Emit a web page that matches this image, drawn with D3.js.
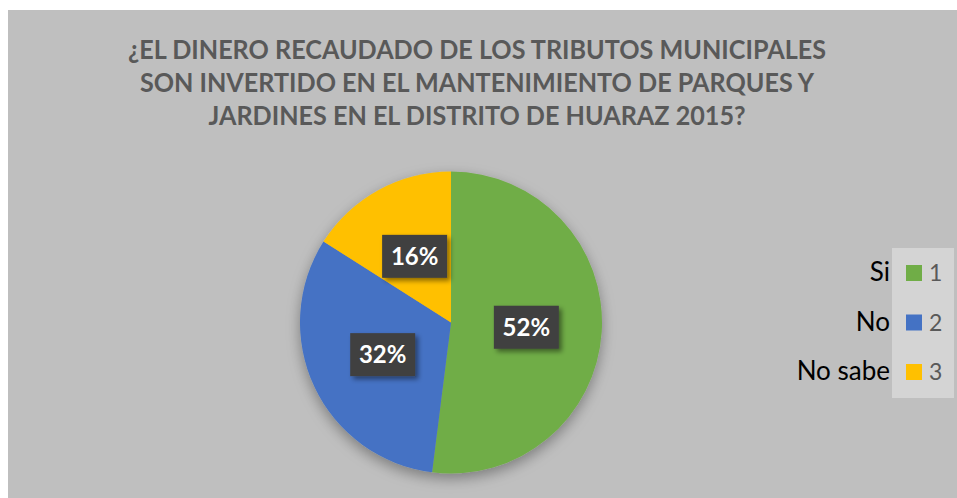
<!DOCTYPE html>
<html>
<head>
<meta charset="utf-8">
<script src="https://cdn.jsdelivr.net/npm/d3@7"></script>
<style>
  body { margin: 0; background: #fff; }
  svg { display: block; }
</style>
</head>
<body>
<svg id="chart" width="957" height="498"></svg>
<script>
const titleLines = [
  '¿EL DINERO RECAUDADO DE LOS TRIBUTOS MUNICIPALES',
  'SON INVERTIDO EN EL MANTENIMIENTO DE PARQUES Y',
  'JARDINES EN EL DISTRITO DE HUARAZ 2015?'
]
const categories = ['Si', 'No', 'No sabe']
const seriesNames = ['1', '2', '3']
const values = [52, 32, 16]
const colours = ['#70AD47', '#4472C4', '#FFC000']

const svg = d3.select('#chart')
const width = +svg.attr('width')
const height = +svg.attr('height')

const defs = svg.append('defs')
defs.append('filter')
    .attr('id', 'pieShadow')
    .attr('x', '-20%').attr('y', '-20%').attr('width', '140%').attr('height', '140%')
  .append('feDropShadow')
    .attr('dx', 0).attr('dy', 5).attr('stdDeviation', 7)
    .attr('flood-color', '#000').attr('flood-opacity', 0.35)
defs.append('filter')
    .attr('id', 'boxShadow')
    .attr('x', '-30%').attr('y', '-30%').attr('width', '160%').attr('height', '160%')
  .append('feDropShadow')
    .attr('dx', 3).attr('dy', 3).attr('stdDeviation', 2.5)
    .attr('flood-color', '#000').attr('flood-opacity', 0.45)

// chart area
svg.append('rect')
  .attr('x', 8).attr('y', 10)
  .attr('width', width - 8).attr('height', height - 10)
  .attr('fill', '#BFBFBF')

// title (Calibri-like: slightly taller, narrower glyphs)
svg.append('g')
  .selectAll('text')
  .data(titleLines)
  .enter().append('text')
    .attr('transform', (d, i) => `translate(477,${59 + i * 33}) scale(0.95,1)`)
    .attr('text-anchor', 'middle')
    .style('font-family', 'Lato, "Open Sans", sans-serif')
    .style('font-weight', 'bold')
    .style('font-size', '26.5px')
    .style('fill', '#595959')
    .text(d => d)

// pie
const cx = 451
const cy = 322.5
const radius = 151

const pie = d3.pie().sort(null).value(d => d)
const arc = d3.arc().innerRadius(0).outerRadius(radius)
const arcs = pie(values)

const g = svg.append('g').attr('transform', `translate(${cx},${cy})`)

g.append('g')
    .attr('filter', 'url(#pieShadow)')
  .selectAll('path')
  .data(arcs)
  .enter().append('path')
    .attr('d', arc)
    .attr('fill', (d, i) => colours[i])

// data labels
const boxW = 65
const boxH = 43
const labels = g.selectAll('g.label')
  .data(arcs)
  .enter().append('g')
    .attr('class', 'label')
    .attr('transform', d => `translate(${arc.centroid(d)})`)

labels.append('rect')
  .attr('x', -boxW / 2).attr('y', -boxH / 2)
  .attr('width', boxW).attr('height', boxH)
  .attr('fill', '#404040')
  .attr('filter', 'url(#boxShadow)')

labels.append('text')
  .attr('text-anchor', 'middle')
  .attr('dy', '0.36em')
  .style('font-family', 'Lato, "Open Sans", sans-serif')
  .style('font-weight', 'bold')
  .style('font-size', '24px')
  .style('fill', '#fff')
  .text(d => d.data + '%')

// legend
svg.append('rect')
  .attr('x', 892).attr('y', 248)
  .attr('width', 62).attr('height', 150)
  .attr('fill', '#D4D4D4')

const legend = svg.append('g')
  .selectAll('g')
  .data(categories)
  .enter().append('g')
    .attr('transform', (d, i) => `translate(0,${281 + i * 49.5})`)

legend.append('text')
  .attr('x', 890)
  .attr('text-anchor', 'end')
  .style('font-family', 'Lato, "Open Sans", sans-serif')
  .style('font-size', '26px')
  .style('fill', '#000')
  .text(d => d)

legend.append('rect')
  .attr('x', 906).attr('y', -16)
  .attr('width', 16).attr('height', 16)
  .attr('fill', (d, i) => colours[i])

legend.append('text')
  .attr('x', 929)
  .style('font-family', 'Lato, "Open Sans", sans-serif')
  .style('font-size', '23px')
  .style('fill', '#595959')
  .text((d, i) => seriesNames[i])
</script>
</body>
</html>
